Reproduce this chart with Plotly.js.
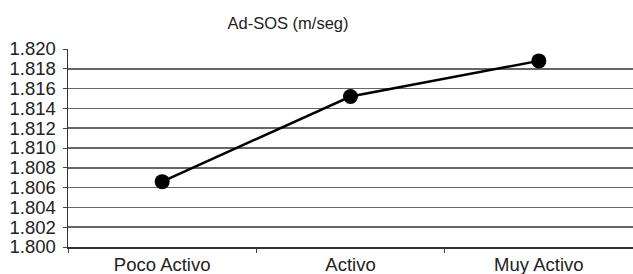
<!DOCTYPE html>
<html>
<head>
<meta charset="utf-8">
<script src="https://cdn.plot.ly/plotly-3.0.1.min.js"></script>
<style>html,body{margin:0;padding:0;background:#fff;}</style>
</head>
<body>
<div id="chart" style="width:633px;height:274px;"></div>
<script>
const categories = ["Poco Activo", "Activo", "Muy Activo"];
const values = [1.8066, 1.8152, 1.8188];
const yTickVals = [1.800, 1.802, 1.804, 1.806, 1.808, 1.810, 1.812, 1.814, 1.816, 1.818, 1.820];
const yTickText = ["1.800", "1.802", "1.804", "1.806", "1.808", "1.810", "1.812", "1.814", "1.816", "1.818", "1.820"];
const chartTitle = "Ad-SOS (m/seg)";

const trace = {
  x: categories,
  y: values,
  type: "scatter",
  mode: "lines+markers",
  line: {color: "#000", width: 2.5},
  marker: {color: "#000", size: 15},
  cliponaxis: false
};

const layout = {
  width: 633,
  height: 274,
  margin: {l: 68, r: 0, t: 49, b: 27},
  paper_bgcolor: "#fff",
  plot_bgcolor: "#fff",
  showlegend: false,
  font: {family: "Liberation Sans, Arial, sans-serif", color: "#222"},
  title: {text: chartTitle, x: 0.455, xanchor: "center", y: 0.915, yanchor: "middle", font: {size: 16.5, color: "#222"}},
  xaxis: {
    type: "category",
    range: [-0.5, 2.5],
    showgrid: false,
    showline: true,
    linecolor: "#333",
    linewidth: 1.5,
    ticks: "outside",
    tickson: "boundaries",
    ticklen: 4,
    tickcolor: "#444",
    tickfont: {size: 18.5, color: "#222"},
    zeroline: false
  },
  yaxis: {
    range: [1.800, 1.820],
    tickvals: yTickVals,
    ticktext: yTickText,
    showgrid: true,
    gridcolor: "#666",
    gridwidth: 1.5,
    showline: true,
    linecolor: "#333",
    linewidth: 1.5,
    ticks: "outside",
    ticklen: 4,
    tickcolor: "#444",
    ticklabelstandoff: 3,
    tickfont: {size: 18.5, color: "#222"},
    zeroline: false
  }
};

Plotly.newPlot("chart", [trace], layout, {displayModeBar: false, staticPlot: true});
</script>
</body>
</html>
